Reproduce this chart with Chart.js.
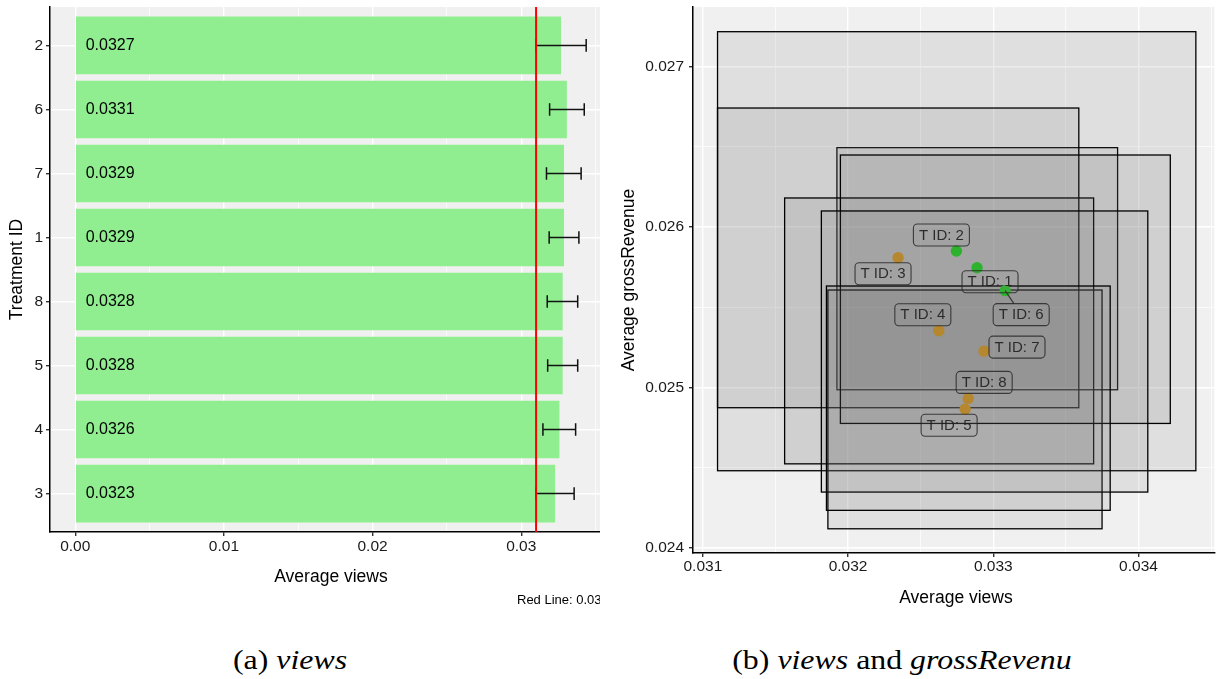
<!DOCTYPE html>
<html>
<head>
<meta charset="utf-8">
<title>views and grossRevenue</title>
<script src="https://cdn.jsdelivr.net/npm/chart.js@4.4.1/dist/chart.umd.min.js"></script>
<style>
  html, body { margin: 0; padding: 0; background: #fff; }
  body { width: 1220px; height: 679px; position: relative; overflow: hidden; }
  #left { position: absolute; left: 0; top: 0; }
  #right { position: absolute; left: 610px; top: 0; }
  .cap {
    position: absolute; top: 647px; font-family: 'Liberation Serif', serif;
    font-size: 27px; line-height: 1; color: #000; white-space: nowrap;
    transform: translateX(-50%) scaleX(1.18);
  }
</style>
</head>
<body>
<canvas id="left" width="600" height="615"></canvas>
<canvas id="right" width="610" height="615"></canvas>
<div class="cap" style="left:290px">(a) <i>views</i></div>
<div class="cap" style="left:902px">(b) <i>views</i> and <i>grossRevenu</i></div>

<script>
// (a) average views per treatment, listed top to bottom
var treatments = ['2', '6', '7', '1', '8', '5', '4', '3'];
var avgViews = [0.03268, 0.03307, 0.03288, 0.03288, 0.03279, 0.03279, 0.03257, 0.03228];
var viewsErrLow = [0.03099, 0.03191, 0.03170, 0.03188, 0.03175, 0.03178, 0.03146, 0.03099];
var viewsErrHigh = [0.03437, 0.03424, 0.03403, 0.03388, 0.03380, 0.03380, 0.03366, 0.03356];
var redLine = 0.031;
var viewTicks = [0, 0.01, 0.02, 0.03];
var viewMinorTicks = [0.005, 0.015, 0.025, 0.035];

// (b) views vs grossRevenue, treatments 1..8
var ids = ['1', '2', '3', '4', '5', '6', '7', '8'];
var meanViews = [0.032888, 0.032746, 0.032344, 0.032625, 0.032806, 0.033082, 0.032936, 0.032827];
var meanRevenue = [0.025746, 0.025850, 0.025808, 0.025353, 0.024863, 0.025603, 0.025226, 0.024931];
var ciViewsLow = [0.031923, 0.031101, 0.031101, 0.031563, 0.031861, 0.031947, 0.031816, 0.031851];
var ciViewsHigh = [0.033856, 0.034395, 0.033589, 0.033691, 0.033749, 0.034219, 0.034064, 0.033805];
var ciRevLow = [0.024985, 0.024480, 0.024873, 0.024523, 0.024118, 0.024775, 0.024347, 0.024233];
var ciRevHigh = [0.026495, 0.027218, 0.026742, 0.026181, 0.025607, 0.026449, 0.026100, 0.025632];
var aboveLine = [true, true, false, false, false, true, false, false];
var scatterXTicks = [0.031, 0.032, 0.033, 0.034];
var scatterXMinor = [0.0315, 0.0325, 0.0335, 0.0345];
var scatterYTicks = [0.024, 0.025, 0.026, 0.027];
var scatterYMinor = [0.0245, 0.0255, 0.0265];

var FONT = 'Liberation Sans';
var PANEL = '#F0F0F0';

function has(list, v) {
  for (var i = 0; i < list.length; i++) {
    if (Math.abs(list[i] - v) < 1e-9) return true;
  }
  return false;
}

function fixedTicks(major, minor) {
  return function(scale) {
    scale.ticks = major.concat(minor).sort(function(a, b) { return a - b; })
      .map(function(v) { return { value: v }; });
  };
}

function fixedSize(w, h) {
  return function(scale) {
    if (w !== null) scale.width = w;
    if (h !== null) scale.height = h;
    scale.paddingLeft = scale.paddingRight = scale.paddingTop = scale.paddingBottom = 0;
  };
}

function gridOpts(major) {
  return {
    offset: false,
    color: '#FFFFFF',
    lineWidth: function(c) { return c.tick && has(major, c.tick.value) ? 1.4 : 0.7; },
    tickColor: function(c) { return c.tick && has(major, c.tick.value) ? '#333333' : 'rgba(0,0,0,0)'; },
    tickLength: 4,
    drawTicks: true
  };
}

var panelBg = {
  id: 'panelBg',
  beforeDraw: function(chart) {
    var a = chart.chartArea, ctx = chart.ctx;
    ctx.save();
    ctx.fillStyle = PANEL;
    ctx.fillRect(a.left, a.top, a.right - a.left, a.bottom - a.top);
    ctx.restore();
  }
};

function title(ctx, text, x, y, rotate, size) {
  ctx.save();
  ctx.translate(x, y);
  if (rotate) ctx.rotate(-Math.PI / 2);
  ctx.fillStyle = '#000';
  ctx.font = size + 'px "' + FONT + '"';
  ctx.textAlign = 'center';
  ctx.textBaseline = 'middle';
  ctx.fillText(text, 0, 0);
  ctx.restore();
}

// ---- (a) bar chart ----
var leftExtras = {
  id: 'leftExtras',
  afterDatasetsDraw: function(chart) {
    var ctx = chart.ctx, xs = chart.scales.x, ys = chart.scales.y, a = chart.chartArea;
    ctx.save();
    ctx.beginPath();
    ctx.rect(a.left, a.top, a.right - a.left, a.bottom - a.top);
    ctx.clip();

    // value labels
    ctx.fillStyle = '#000';
    ctx.font = '16px "' + FONT + '"';
    ctx.textAlign = 'left';
    ctx.textBaseline = 'middle';
    for (var i = 0; i < avgViews.length; i++) {
      ctx.fillText(avgViews[i].toFixed(4), xs.getPixelForValue(0.0007), ys.getPixelForValue(i + 1));
    }

    // error bars
    ctx.strokeStyle = '#111';
    ctx.lineWidth = 1.5;
    for (var j = 0; j < avgViews.length; j++) {
      var y = ys.getPixelForValue(j + 1);
      var x1 = xs.getPixelForValue(viewsErrLow[j]);
      var x2 = xs.getPixelForValue(viewsErrHigh[j]);
      ctx.beginPath();
      ctx.moveTo(x1, y); ctx.lineTo(x2, y);
      ctx.moveTo(x1, y - 6.3); ctx.lineTo(x1, y + 6.3);
      ctx.moveTo(x2, y - 6.3); ctx.lineTo(x2, y + 6.3);
      ctx.stroke();
    }

    // red reference line
    var rx = xs.getPixelForValue(redLine);
    ctx.strokeStyle = '#FF0000';
    ctx.lineWidth = 2;
    ctx.beginPath();
    ctx.moveTo(rx, a.top); ctx.lineTo(rx, a.bottom);
    ctx.stroke();
    ctx.restore();
  },
  afterDraw: function(chart) {
    var ctx = chart.ctx, a = chart.chartArea;
    title(ctx, 'Average views', 331, 577, false, 17.5);
    title(ctx, 'Treatment ID', 17, (a.top + a.bottom) / 2, true, 17.5);
    ctx.save();
    ctx.fillStyle = '#000';
    ctx.font = '13px "' + FONT + '"';
    ctx.textBaseline = 'middle';
    ctx.fillText('Red Line: ' + redLine, 517, 600);
    ctx.restore();
  }
};

new Chart(document.getElementById('left'), {
  type: 'bar',
  data: {
    datasets: [{
      data: avgViews.map(function(v, i) { return { x: v, y: i + 1 }; }),
      backgroundColor: '#90EE90',
      borderWidth: 0,
      barPercentage: 0.9,
      categoryPercentage: 1
    }]
  },
  options: {
    indexAxis: 'y',
    responsive: false,
    animation: false,
    layout: { padding: { top: 7, right: 0, bottom: 0, left: 0 } },
    plugins: { legend: { display: false }, tooltip: { enabled: false } },
    scales: {
      x: {
        type: 'linear',
        min: -0.0017,
        max: 0.0353,
        afterBuildTicks: fixedTicks(viewTicks, viewMinorTicks),
        afterFit: fixedSize(null, 83),
        grid: gridOpts(viewTicks),
        border: { display: true, color: '#000', width: 1.5 },
        ticks: {
          color: '#1a1a1a',
          font: { family: FONT, size: 15.5 },
          padding: 1.5,
          maxRotation: 0,
          autoSkip: false,
          callback: function(v) { return has(viewTicks, v) ? v.toFixed(2) : ''; }
        }
      },
      y: {
        type: 'linear',
        reverse: true,
        offset: false,
        min: 0.4,
        max: 8.6,
        afterBuildTicks: fixedTicks([1, 2, 3, 4, 5, 6, 7, 8], []),
        afterFit: fixedSize(50, null),
        grid: gridOpts([1, 2, 3, 4, 5, 6, 7, 8]),
        border: { display: true, color: '#000', width: 1.5 },
        ticks: {
          color: '#1a1a1a',
          font: { family: FONT, size: 15.5 },
          padding: 3,
          autoSkip: false,
          callback: function(v) { return treatments[Math.round(v) - 1]; }
        }
      }
    }
  },
  plugins: [panelBg, leftExtras]
});

// ---- (b) scatter with CI boxes ----
// label nudges in pixels, like the repelled labels
var labelNudge = [[13, 14], [-15, -16], [-15, 16], [-16, -16], [-16, 16], [16, 24], [33, -4], [16, -16]];

function roundRect(ctx, x, y, w, h, r) {
  ctx.beginPath();
  ctx.moveTo(x + r, y);
  ctx.lineTo(x + w - r, y); ctx.arcTo(x + w, y, x + w, y + r, r);
  ctx.lineTo(x + w, y + h - r); ctx.arcTo(x + w, y + h, x + w - r, y + h, r);
  ctx.lineTo(x + r, y + h); ctx.arcTo(x, y + h, x, y + h - r, r);
  ctx.lineTo(x, y + r); ctx.arcTo(x, y, x + r, y, r);
  ctx.closePath();
}

var rightExtras = {
  id: 'rightExtras',
  beforeDatasetsDraw: function(chart) {
    var ctx = chart.ctx, xs = chart.scales.x, ys = chart.scales.y, a = chart.chartArea;
    ctx.save();
    ctx.beginPath();
    ctx.rect(a.left, a.top, a.right - a.left, a.bottom - a.top);
    ctx.clip();
    for (var i = 0; i < ids.length; i++) {
      var x1 = xs.getPixelForValue(ciViewsLow[i]), x2 = xs.getPixelForValue(ciViewsHigh[i]);
      var y1 = ys.getPixelForValue(ciRevHigh[i]), y2 = ys.getPixelForValue(ciRevLow[i]);
      ctx.fillStyle = 'rgba(110,110,110,0.13)';
      ctx.fillRect(x1, y1, x2 - x1, y2 - y1);
      ctx.strokeStyle = '#000';
      ctx.lineWidth = 1.3;
      ctx.strokeRect(x1, y1, x2 - x1, y2 - y1);
    }
    ctx.restore();
  },
  afterDatasetsDraw: function(chart) {
    var ctx = chart.ctx, meta = chart.getDatasetMeta(0);
    var bw = 56, bh = 22;
    ctx.save();
    for (var i = 0; i < ids.length; i++) {
      var p = meta.data[i];
      var cx = p.x + labelNudge[i][0], cy = p.y + labelNudge[i][1];
      // leader segment when the label sits away from its point
      var dx = p.x - cx, dy = p.y - cy;
      var t = Math.min(Math.abs(dx) > 0 ? (bw / 2) / Math.abs(dx) : 1e9, Math.abs(dy) > 0 ? (bh / 2) / Math.abs(dy) : 1e9);
      var ex = cx + dx * t, ey = cy + dy * t;
      if (t < 1 && Math.hypot(p.x - ex, p.y - ey) > 10) {
        ctx.strokeStyle = '#333';
        ctx.lineWidth = 1.1;
        ctx.beginPath();
        ctx.moveTo(p.x, p.y); ctx.lineTo(ex, ey);
        ctx.stroke();
      }
      roundRect(ctx, cx - bw / 2, cy - bh / 2, bw, bh, 4);
      ctx.fillStyle = 'rgba(150,150,150,0.1)';
      ctx.fill();
      ctx.strokeStyle = 'rgba(40,40,40,0.85)';
      ctx.lineWidth = 1.1;
      ctx.stroke();
      ctx.fillStyle = 'rgba(30,30,30,0.9)';
      ctx.font = '15px "' + FONT + '"';
      ctx.textAlign = 'center';
      ctx.textBaseline = 'middle';
      ctx.fillText('T ID: ' + ids[i], cx, cy + 0.5);
    }
    ctx.restore();
  },
  afterDraw: function(chart) {
    var ctx = chart.ctx, a = chart.chartArea;
    title(ctx, 'Average views', 346, 598, false, 17.5);
    title(ctx, 'Average grossRevenue', 19.5, (a.top + a.bottom) / 2, true, 17.5);
  }
};

new Chart(document.getElementById('right'), {
  type: 'scatter',
  data: {
    datasets: [{
      data: meanViews.map(function(v, i) { return { x: v, y: meanRevenue[i] }; }),
      backgroundColor: aboveLine.map(function(g) { return g ? '#2DB22D' : '#B5872E'; }),
      borderWidth: 0,
      pointRadius: 5.7
    }]
  },
  options: {
    responsive: false,
    animation: false,
    layout: { padding: { top: 7, right: 0, bottom: 0, left: 0 } },
    plugins: { legend: { display: false }, tooltip: { enabled: false } },
    scales: {
      x: {
        type: 'linear',
        min: 0.030932,
        max: 0.034522,
        afterBuildTicks: fixedTicks(scatterXTicks, scatterXMinor),
        afterFit: fixedSize(null, 62),
        grid: gridOpts(scatterXTicks),
        border: { display: true, color: '#000', width: 1.5 },
        ticks: {
          color: '#1a1a1a',
          font: { family: FONT, size: 15.5 },
          padding: 0,
          maxRotation: 0,
          autoSkip: false,
          callback: function(v) { return has(scatterXTicks, v) ? v.toFixed(3) : ''; }
        }
      },
      y: {
        type: 'linear',
        min: 0.023967,
        max: 0.027372,
        afterBuildTicks: fixedTicks(scatterYTicks, scatterYMinor),
        afterFit: fixedSize(83, null),
        grid: gridOpts(scatterYTicks),
        border: { display: true, color: '#000', width: 1.5 },
        ticks: {
          color: '#1a1a1a',
          font: { family: FONT, size: 15.5 },
          padding: 5,
          autoSkip: false,
          callback: function(v) { return has(scatterYTicks, v) ? v.toFixed(3) : ''; }
        }
      }
    }
  },
  plugins: [panelBg, rightExtras]
});
</script>
</body>
</html>
